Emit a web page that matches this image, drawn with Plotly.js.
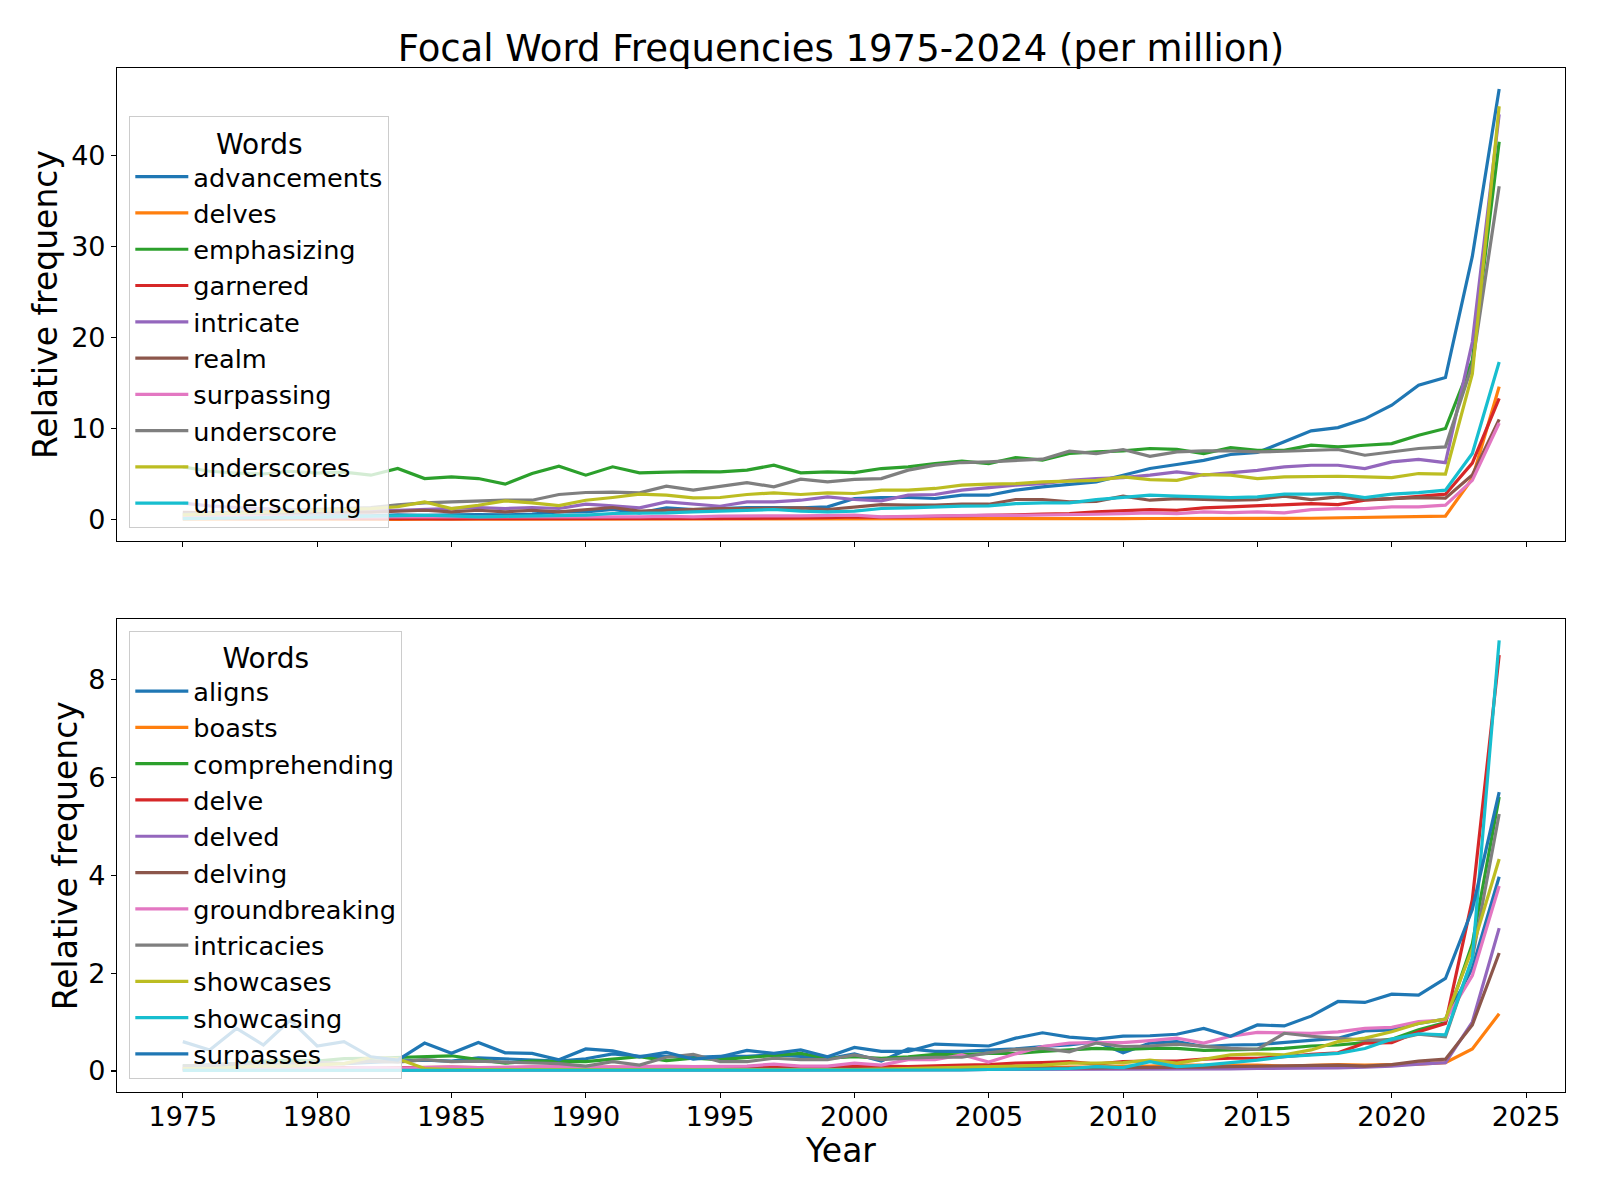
<!DOCTYPE html>
<html>
<head>
<meta charset="utf-8">
<script src="https://cdn.plot.ly/plotly-3.0.1.min.js"></script>
<style>html,body{margin:0;padding:0;background:#fff;}#chart{width:1600px;height:1200px;}</style>
</head>
<body>
<div id="chart"></div>
<script>
const years = [1975,1976,1977,1978,1979,1980,1981,1982,1983,1984,1985,1986,1987,1988,1989,1990,1991,1992,1993,1994,1995,1996,1997,1998,1999,2000,2001,2002,2003,2004,2005,2006,2007,2008,2009,2010,2011,2012,2013,2014,2015,2016,2017,2018,2019,2020,2021,2022,2023,2024];

// Top panel
const advancements = [0.4,0.35,0.4,0.35,0.4,0.4,0.45,0.4,0.5,0.45, 0.5,0.55,0.5,0.6,0.84,0.84,1.1,0.73,1.28,1.1, 1.21,1.32,1.32,1.28,1.39,2.31,2.42,2.42,2.31,2.67, 2.67,3.22,3.59,3.88,4.13,4.87,5.6,6.04,6.5,7.14, 7.36,8.53,9.74,10.1,11.06,12.56,14.75,15.6,28.9,47.3];
const delves = [0.03,0.02,0.03,0.02,0.03,0.02,0.03,0.03,0.02,0.03, 0.03,0.02,0.03,0.03,0.02,0.03,0.03,0.04,0.03,0.04, 0.04,0.05,0.04,0.05,0.05,0.06,0.05,0.06,0.07,0.07, 0.08,0.09,0.1,0.1,0.1,0.1,0.11,0.1,0.1,0.11, 0.11,0.12,0.14,0.18,0.25,0.28,0.33,0.38,4.5,14.6];
const emphasizing = [5.78,5.3,5.1,5.0,5.3,5.1,5.2,4.87,5.6,4.5, 4.68,4.5,3.88,5.05,5.86,4.87,5.79,5.13,5.2,5.27, 5.24,5.42,5.97,5.13,5.24,5.16,5.6,5.79,6.15,6.41, 6.15,6.81,6.52,7.25,7.43,7.54,7.8,7.7,7.25,7.9, 7.6,7.6,8.16,7.98,8.16,8.34,9.26,10.0,17.5,41.5];
const garnered = [0.15,0.12,0.1,0.1,0.12,0.1,0.1,0.12,0.1,0.1, 0.08,0.1,0.1,0.08,0.05,0.05,0.08,0.11,0.1,0.12, 0.11,0.12,0.15,0.15,0.2,0.3,0.25,0.3,0.35,0.35, 0.4,0.5,0.6,0.65,0.84,0.95,1.09,1.02,1.28,1.38, 1.5,1.68,1.75,1.64,2.12,2.3,2.56,2.78,6.2,13.3];
const intricate = [1.8,1.5,1.3,1.2,1.1,1.1,1.0,0.95,1.0,1.09, 1.2,1.32,1.2,1.32,1.21,1.68,1.5,1.28,1.94,1.68, 1.46,1.94,1.94,2.12,2.49,2.2,2.05,2.67,2.75,3.22, 3.51,3.77,3.95,4.3,4.5,4.6,4.87,5.23,4.87,5.1, 5.4,5.78,5.96,5.96,5.6,6.33,6.6,6.25,19.5,44.5];
const realm = [0.8,0.75,0.8,0.7,0.75,0.8,0.85,0.8,0.9,1.02, 0.84,1.02,0.84,1.02,0.84,1.1,1.32,0.92,1.02,1.1, 1.21,1.21,1.28,1.28,1.1,1.39,1.64,1.57,1.57,1.68, 1.68,2.2,2.2,1.93,2.0,2.56,2.12,2.3,2.19,2.12, 2.19,2.56,2.19,2.48,2.19,2.3,2.41,2.35,4.9,11.0];
const surpassing = [0.35,0.3,0.35,0.3,0.3,0.3,0.3,0.3,0.3,0.25, 0.3,0.25,0.3,0.25,0.22,0.25,0.3,0.3,0.35,0.3, 0.37,0.35,0.4,0.4,0.45,0.48,0.3,0.35,0.4,0.45, 0.48,0.45,0.48,0.47,0.58,0.65,0.72,0.65,0.84,0.76, 0.84,0.72,1.09,1.2,1.2,1.38,1.38,1.57,4.3,10.6];
const underscore = [0.6,0.7,0.8,0.9,1.0,1.1,1.2,1.3,1.6,1.83, 1.94,2.05,2.12,2.12,2.75,2.97,3.0,2.93,3.66,3.22, 3.66,4.06,3.59,4.43,4.14,4.4,4.5,5.42,5.97,6.26, 6.34,6.52,6.63,7.5,7.25,7.69,6.95,7.43,7.54,7.54, 7.43,7.5,7.6,7.69,7.06,7.43,7.8,7.98,17.0,36.6];
const underscores = [0.5,0.6,0.7,0.8,0.9,1.0,1.1,1.2,1.4,1.94, 1.2,1.57,2.05,1.83,1.52,2.12,2.42,2.78,2.67,2.38, 2.42,2.75,2.93,2.75,2.93,2.86,3.22,3.22,3.41,3.77, 3.88,3.95,4.14,4.24,4.3,4.68,4.39,4.3,4.94,4.87, 4.5,4.68,4.75,4.75,4.68,4.6,5.05,4.98,16.0,45.4];
const underscoring = [0.1,0.15,0.15,0.2,0.2,0.25,0.25,0.3,0.35,0.47, 0.4,0.29,0.35,0.4,0.48,0.48,0.66,0.66,0.73,0.84, 0.92,0.95,1.1,0.92,0.84,0.92,1.21,1.28,1.39,1.46, 1.5,1.75,1.83,1.82,2.19,2.41,2.67,2.56,2.48,2.41, 2.48,2.78,2.78,2.85,2.41,2.78,2.96,3.22,7.25,17.3];

// Bottom panel
const aligns = [0.1,0.1,0.12,0.15,0.12,0.15,0.15,0.18,0.2,0.22, 0.2,0.27,0.25,0.22,0.2,0.25,0.35,0.3,0.3,0.28, 0.3,0.3,0.33,0.3,0.25,0.35,0.2,0.45,0.4,0.4, 0.42,0.45,0.5,0.53,0.6,0.37,0.57,0.6,0.5,0.53, 0.54,0.58,0.63,0.67,0.82,0.84,0.97,1.06,2.1,3.97];
const boasts = [0.02,0.02,0.02,0.02,0.02,0.02,0.02,0.02,0.02,0.02, 0.02,0.02,0.02,0.02,0.02,0.02,0.02,0.02,0.02,0.02, 0.02,0.02,0.02,0.03,0.03,0.03,0.04,0.04,0.05,0.05, 0.06,0.06,0.07,0.08,0.08,0.1,0.1,0.12,0.12,0.12, 0.12,0.1,0.12,0.13,0.12,0.13,0.14,0.17,0.45,1.17];
const comprehending = [0.1,0.12,0.15,0.2,0.22,0.2,0.25,0.26,0.28,0.29, 0.31,0.23,0.16,0.2,0.19,0.19,0.24,0.29,0.21,0.26, 0.23,0.27,0.31,0.36,0.26,0.29,0.26,0.29,0.34,0.33, 0.36,0.36,0.4,0.43,0.46,0.44,0.46,0.46,0.42,0.43, 0.44,0.46,0.51,0.53,0.58,0.65,0.84,0.99,2.6,5.6];
const delve = [0.05,0.06,0.05,0.06,0.05,0.06,0.07,0.06,0.07,0.07, 0.08,0.07,0.06,0.08,0.07,0.07,0.08,0.07,0.08,0.07, 0.08,0.08,0.07,0.08,0.09,0.1,0.1,0.09,0.11,0.12, 0.13,0.16,0.17,0.19,0.14,0.19,0.2,0.2,0.24,0.26, 0.26,0.29,0.34,0.37,0.57,0.58,0.8,0.97,3.5,8.5];
const delved = [0.01,0.01,0.01,0.01,0.01,0.01,0.01,0.01,0.01,0.01, 0.01,0.01,0.01,0.01,0.01,0.01,0.01,0.01,0.01,0.01, 0.01,0.01,0.02,0.02,0.02,0.02,0.02,0.02,0.02,0.02, 0.03,0.03,0.03,0.03,0.03,0.03,0.03,0.04,0.04,0.04, 0.05,0.05,0.06,0.06,0.08,0.1,0.14,0.17,1.0,2.92];
const delving = [0.03,0.03,0.03,0.03,0.03,0.03,0.03,0.03,0.03,0.03, 0.03,0.03,0.03,0.03,0.03,0.03,0.03,0.03,0.03,0.04, 0.04,0.04,0.04,0.04,0.04,0.04,0.04,0.04,0.05,0.05, 0.05,0.05,0.05,0.05,0.06,0.07,0.07,0.08,0.08,0.09, 0.1,0.11,0.11,0.12,0.1,0.13,0.2,0.24,0.94,2.41];
const groundbreaking = [0.05,0.05,0.06,0.05,0.06,0.05,0.06,0.07,0.06,0.07, 0.08,0.07,0.08,0.08,0.09,0.09,0.08,0.09,0.1,0.09, 0.09,0.1,0.14,0.1,0.1,0.16,0.12,0.23,0.23,0.33, 0.18,0.35,0.5,0.57,0.58,0.58,0.62,0.67,0.57,0.71, 0.79,0.78,0.77,0.8,0.87,0.89,1.01,1.04,1.95,3.78];
const intricacies = [0.1,0.12,0.15,0.12,0.15,0.18,0.15,0.2,0.18,0.23, 0.19,0.2,0.18,0.17,0.15,0.1,0.19,0.12,0.28,0.34, 0.19,0.19,0.26,0.23,0.23,0.33,0.23,0.26,0.28,0.28, 0.37,0.44,0.46,0.39,0.57,0.5,0.51,0.55,0.5,0.46, 0.44,0.77,0.71,0.67,0.63,0.63,0.75,0.7,2.3,5.25];
const showcases = [0.05,0.05,0.08,0.1,0.1,0.12,0.15,0.28,0.25,0.05, 0.03,0.03,0.03,0.03,0.02,0.02,0.02,0.02,0.02,0.02, 0.02,0.02,0.02,0.03,0.03,0.03,0.04,0.05,0.06,0.08, 0.09,0.1,0.12,0.16,0.16,0.17,0.22,0.16,0.24,0.33, 0.35,0.33,0.43,0.6,0.67,0.8,0.97,1.06,2.5,4.33];
const showcasing = [0.01,0.01,0.01,0.01,0.01,0.01,0.01,0.01,0.01,0.01, 0.01,0.01,0.01,0.01,0.01,0.01,0.01,0.01,0.01,0.01, 0.01,0.01,0.01,0.01,0.02,0.02,0.02,0.02,0.02,0.02, 0.03,0.03,0.04,0.05,0.09,0.07,0.19,0.09,0.12,0.17, 0.22,0.29,0.33,0.36,0.46,0.65,0.76,0.74,2.3,8.8];
const surpasses = [0.6,0.43,0.87,0.53,1.04,0.51,0.6,0.29,0.22,0.57, 0.36,0.58,0.37,0.36,0.23,0.45,0.41,0.29,0.38,0.24, 0.29,0.42,0.36,0.43,0.29,0.48,0.4,0.4,0.55,0.53, 0.51,0.67,0.78,0.69,0.65,0.71,0.72,0.75,0.87,0.71, 0.94,0.92,1.12,1.42,1.4,1.57,1.55,1.89,3.3,5.7];

const topNames = ['advancements','delves','emphasizing','garnered','intricate','realm','surpassing','underscore','underscores','underscoring'];
const topSeries = [advancements,delves,emphasizing,garnered,intricate,realm,surpassing,underscore,underscores,underscoring];
const botNames = ['aligns','boasts','comprehending','delve','delved','delving','groundbreaking','intricacies','showcases','showcasing','surpasses'];
const botSeries = [aligns,boasts,comprehending,delve,delved,delving,groundbreaking,intricacies,showcases,showcasing,surpasses];
const palette = ['#1f77b4','#ff7f0e','#2ca02c','#d62728','#9467bd','#8c564b','#e377c2','#7f7f7f','#bcbd22','#17becf'];

const FONT = 'DejaVu Sans, Liberation Sans, sans-serif';
const traces = [];
topNames.forEach((n,i)=>traces.push({x:years,y:topSeries[i],name:n,type:'scatter',mode:'lines',
  line:{color:palette[i%10],width:3.2},xaxis:'x',yaxis:'y',legend:'legend'}));
botNames.forEach((n,i)=>traces.push({x:years,y:botSeries[i],name:n,type:'scatter',mode:'lines',
  line:{color:palette[i%10],width:3.2},xaxis:'x2',yaxis:'y2',legend:'legend2'}));

const axBase = {showline:true,mirror:true,linecolor:'#000',linewidth:1.1,ticks:'outside',ticklen:5,tickwidth:1.1,
  tickcolor:'#000',showgrid:false,zeroline:false,tickfont:{family:FONT,size:27,color:'#000'}};
const legBase = {bgcolor:'rgba(255,255,255,0.8)',bordercolor:'#cccccc',borderwidth:1,xanchor:'left',yanchor:'top',
  font:{family:FONT,size:25.6,color:'#000'},itemwidth:53,tracegroupgap:0};

const layout = {
  width:1600,height:1200,paper_bgcolor:'#fff',plot_bgcolor:'#fff',
  margin:{l:117,r:35,t:68,b:108},
  font:{family:FONT,color:'#000'},
  title:{text:'Focal Word Frequencies 1975-2024 (per million)',font:{family:FONT,size:37,color:'#000'},
    x:0.5,xref:'paper',xanchor:'center',y:1-48/1200,yref:'container',yanchor:'middle'},
  xaxis:Object.assign({},axBase,{domain:[0,1],anchor:'y',range:[1972.55,2026.45],tickmode:'linear',tick0:1975,dtick:5,showticklabels:false}),
  yaxis:Object.assign({},axBase,{domain:[0.538,1],anchor:'x',range:[-2.37,49.6],tickmode:'linear',tick0:0,dtick:10,
    title:{text:'Relative frequency',standoff:3,font:{family:FONT,size:33,color:'#000'}}}),
  xaxis2:Object.assign({},axBase,{domain:[0,1],anchor:'y2',range:[1972.55,2026.45],tickmode:'linear',tick0:1975,dtick:5,
    ticklabelstandoff:-5,
    title:{text:'Year',standoff:4,font:{family:FONT,size:33,color:'#000'}}}),
  yaxis2:Object.assign({},axBase,{domain:[0,0.4616],anchor:'x2',range:[-0.43,9.23],tickmode:'linear',tick0:0,dtick:2,
    title:{text:'Relative frequency',standoff:0,font:{family:FONT,size:33,color:'#000'}}}),
  legend:Object.assign({},legBase,{x:0.0085,y:0.953,title:{text:'Words',side:'top center',font:{family:FONT,size:28,color:'#000'}}}),
  legend2:Object.assign({},legBase,{x:0.0085,y:0.4506,title:{text:'Words',side:'top center',font:{family:FONT,size:28,color:'#000'}}}),
  showlegend:true
};
Plotly.newPlot('chart',traces,layout,{displayModeBar:false,staticPlot:true});
</script>
</body>
</html>
